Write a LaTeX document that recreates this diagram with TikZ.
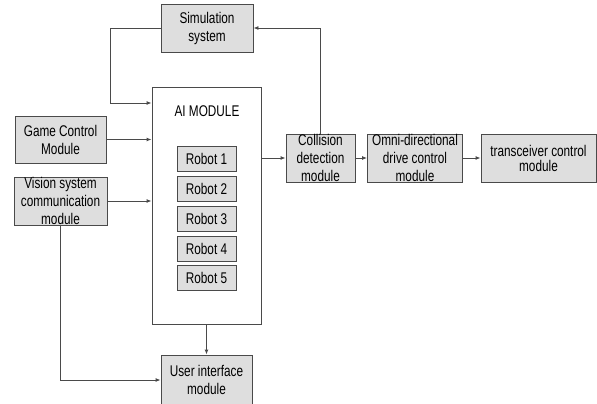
\documentclass[tikz,border=0pt]{standalone}
\usepackage{fontspec}
\usepackage{tikz}
\usetikzlibrary{arrows.meta}
\newfontfamily\boxfont[FakeStretch=0.76]{Liberation Sans}
\definecolor{boxgray}{HTML}{DEDEDE}
\definecolor{edgegray}{HTML}{4A4A4A}

\begin{document}
\begin{tikzpicture}[x=1pt,y=-1pt,
	blk/.style={draw=edgegray,fill=boxgray,line width=0.9pt,inner sep=0pt,align=center,
		font=\boxfont\fontsize{15.5}{18}\selectfont},
	conn/.style={draw=edgegray,line width=0.9pt,-{Latex[length=5pt,width=4pt]}}]
	
	\clip (0,0) rectangle (597,404);
	\useasboundingbox (0,0) rectangle (597,404);
	
	\node[draw=edgegray,line width=0.9pt,minimum width=109pt,minimum height=237pt] (ai) at (206.5,205.5) {};
	\node[font=\boxfont\fontsize{15.5}{18}\selectfont] (ailabel) at (207,111) {AI MODULE};
	
	\node[blk,minimum width=92pt,minimum height=48pt] (sim) at (207,28) {Simulation\\system};
	\node[blk,minimum width=91pt,minimum height=47pt] (game) at (60.5,139.5) {Game Control\\Module};
	\node[blk,minimum width=93pt,minimum height=48pt] (vision) at (60.5,201) {Vision system\\communication\\module};
	\node[blk,minimum width=91pt,minimum height=50pt] (ui) at (206.5,380) {User interface\\module};
	
	\node[blk,minimum width=59pt,minimum height=25pt] (r1) at (206.5,158.5) {Robot 1};
	\node[blk,minimum width=59pt,minimum height=25pt] (r2) at (206.5,189) {Robot 2};
	\node[blk,minimum width=59pt,minimum height=25pt] (r3) at (206.5,218.5) {Robot 3};
	\node[blk,minimum width=59pt,minimum height=25pt] (r4) at (206.5,248.5) {Robot 4};
	\node[blk,minimum width=59pt,minimum height=25pt] (r5) at (206.5,278) {Robot 5};
	
	\node[blk,minimum width=69pt,minimum height=48pt] (coll) at (320.5,158) {Collision\\detection\\module};
	\node[blk,minimum width=95pt,minimum height=48pt] (omni) at (415,158) {Omni-directional\\drive control\\module};
	\node[blk,minimum width=115pt,minimum height=48pt,font=\boxfont\fontsize{15.5}{15}\selectfont] (trans) at (538.5,158) {transceiver control\\module};
	
	\coordinate (simbend) at (110,103);
	
	\draw[conn] (sim.west) -| (simbend) -- (simbend -| ai.west);
	\draw[conn] (game.east) -- (game.east -| ai.west);
	\draw[conn] (vision.east) -- (vision.east -| ai.west);
	\draw[conn] (vision.south) |- (ui.west);
	\draw[conn] (ai.south) -- (ui.north);
	\draw[conn] (ai.east |- coll.west) -- (coll.west);
	\draw[conn] (coll.north) |- (sim.east);
	\draw[conn] (coll.east) -- (omni.west);
	\draw[conn] (omni.east) -- (trans.west);
	
\end{tikzpicture}
\end{document}
